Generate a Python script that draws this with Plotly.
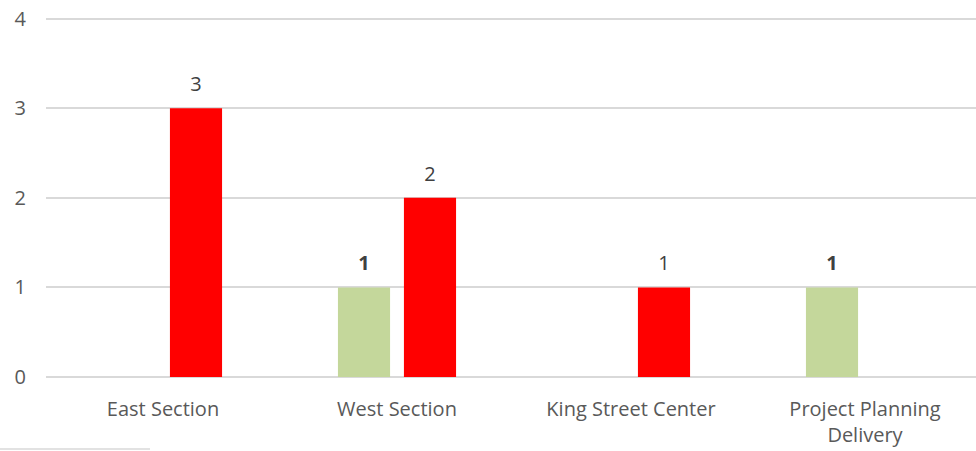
import plotly.graph_objects as go

categories = ["East Section", "West Section", "King Street Center", "Project Planning<br>Delivery"]
green_values = [0, 1, 0, 1]
red_values = [3, 2, 1, 0]

FONT = "Open Sans"
FS = 20

fig = go.Figure()
for name, vals, color in [
    ("Series 1", green_values, "#C4D79B"),
    ("Series 2", red_values, "#FF0000"),
]:
    fig.add_trace(go.Bar(
        x=categories, y=vals, name=name,
        marker=dict(color=color, line=dict(width=0)),
        hoverinfo="skip",
    ))
for name, vals, bold in [
    ("Series 1", green_values, True),
    ("Series 2", red_values, False),
]:
    fig.add_trace(go.Scatter(
        x=categories, y=[v if v > 0 else None for v in vals],
        mode="markers+text",
        marker=dict(size=18, color="rgba(0,0,0,0)"),
        text=[(f"<b>{v}</b>" if bold else f"{v}") if v > 0 else "" for v in vals],
        textposition="top center",
        textfont=dict(family=FONT, size=FS, color="#404040"),
        cliponaxis=False, hoverinfo="skip", showlegend=False,
    ))

fig.update_layout(
    width=982, height=451,
    margin=dict(l=46, r=0, t=16, b=74),
    paper_bgcolor="white", plot_bgcolor="white",
    barmode="group", bargap=0.436, bargroupgap=0.21,
    scattermode="group", scattergap=0.436,
    showlegend=False,
    font=dict(family=FONT, size=FS, color="#595959"),
    xaxis=dict(showgrid=False, showline=False, ticks="", ticklabelstandoff=18,
               tickfont=dict(size=FS, color="#595959")),
    yaxis=dict(range=[0, 4.03], tickvals=[0, 1, 2, 3, 4], showgrid=True,
               gridcolor="#D9D9D9", gridwidth=1.5,
               zeroline=True, zerolinecolor="#D9D9D9", zerolinewidth=2,
               showline=False, ticks="", ticklabelstandoff=19,
               tickfont=dict(size=FS, color="#595959")),
)
fig.add_shape(type="line", xref="paper", yref="paper",
              x0=-46/936, x1=104/936, y0=-72/361, y1=-72/361,
              line=dict(color="#D9D9D9", width=1.5))

fig.write_html("out.html", config={"displayModeBar": False},
               post_script="document.body.style.margin='0';document.body.style.overflow='hidden';")
